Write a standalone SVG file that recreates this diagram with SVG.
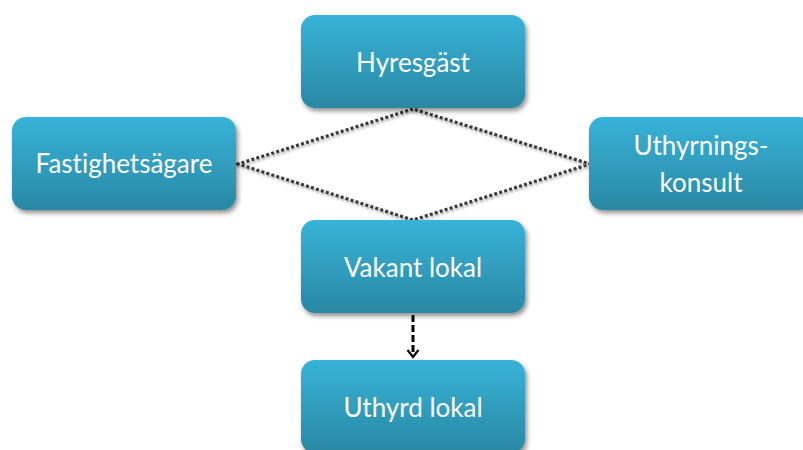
<svg xmlns="http://www.w3.org/2000/svg" width="803" height="450" viewBox="0 0 803 450">
  <defs>
    <linearGradient id="boxFill" x1="0" y1="0" x2="0" y2="1">
      <stop offset="0" stop-color="#37b3d8"/>
      <stop offset="1" stop-color="#2a88a4"/>
    </linearGradient>
    <filter id="shadow" x="-10%" y="-10%" width="125%" height="130%">
      <feGaussianBlur in="SourceAlpha" stdDeviation="2.5"/>
      <feOffset dx="2" dy="3" result="b"/>
      <feComponentTransfer><feFuncA type="linear" slope="0.45"/></feComponentTransfer>
      <feMerge><feMergeNode/><feMergeNode in="SourceGraphic"/></feMerge>
    </filter>
    <filter id="lineShadow" x="-5%" y="-20%" width="110%" height="140%">
      <feGaussianBlur in="SourceAlpha" stdDeviation="1"/>
      <feOffset dx="1" dy="1.5"/>
      <feComponentTransfer><feFuncA type="linear" slope="0.35"/></feComponentTransfer>
      <feMerge><feMergeNode/><feMergeNode in="SourceGraphic"/></feMerge>
    </filter>
    <!-- open chevron head, drawn along +x so orient="auto" turns it with the line -->
    <marker id="chevron" viewBox="0 0 12 14" refX="10" refY="7" markerWidth="12" markerHeight="14" markerUnits="userSpaceOnUse" orient="auto">
      <path d="M3,1.5 L10,7 L3,12.5" fill="none" stroke="#000" stroke-width="2.2"/>
    </marker>
  </defs>
  <style>
    .box { fill: url(#boxFill); filter: url(#shadow); }
    .label { fill: #ffffff; font-family: Lato, "Open Sans", "Liberation Sans", sans-serif; font-size: 26px; text-anchor: middle; font-variant-ligatures: none; }
    .dotted { fill: none; stroke: #3a3a3a; stroke-width: 3.2; stroke-dasharray: 3 2.2; filter: url(#lineShadow); }
    .dashed { fill: none; stroke: #000; stroke-width: 3; stroke-dasharray: 7 3; }
  </style>
  <rect width="803" height="450" fill="#ffffff"/>

  <g id="connectors">
    <path class="dotted" d="M413,109 L238,164 L413,220 L590,164 Z"/>
    <path class="dashed" d="M413,315 V357" marker-end="url(#chevron)"/>
  </g>

  <g id="hyresgast">
    <rect class="box" x="301" y="15" width="224" height="93" rx="14"/>
    <text class="label" x="413" y="72">Hyresgäst</text>
  </g>
  <g id="fastighetsagare">
    <rect class="box" x="12" y="117" width="224" height="93" rx="14"/>
    <text class="label" x="124" y="173">Fastighetsägare</text>
  </g>
  <g id="uthyrningskonsult">
    <rect class="box" x="589" y="117" width="224" height="93" rx="14"/>
    <text class="label" x="701" y="155">Uthyrnings-</text>
    <text class="label" x="701" y="192">konsult</text>
  </g>
  <g id="vakant-lokal">
    <rect class="box" x="301" y="220" width="224" height="93" rx="14"/>
    <text class="label" x="413" y="277">Vakant lokal</text>
  </g>
  <g id="uthyrd-lokal">
    <rect class="box" x="301" y="360" width="224" height="93" rx="14"/>
    <text class="label" x="413" y="417">Uthyrd lokal</text>
  </g>
</svg>
